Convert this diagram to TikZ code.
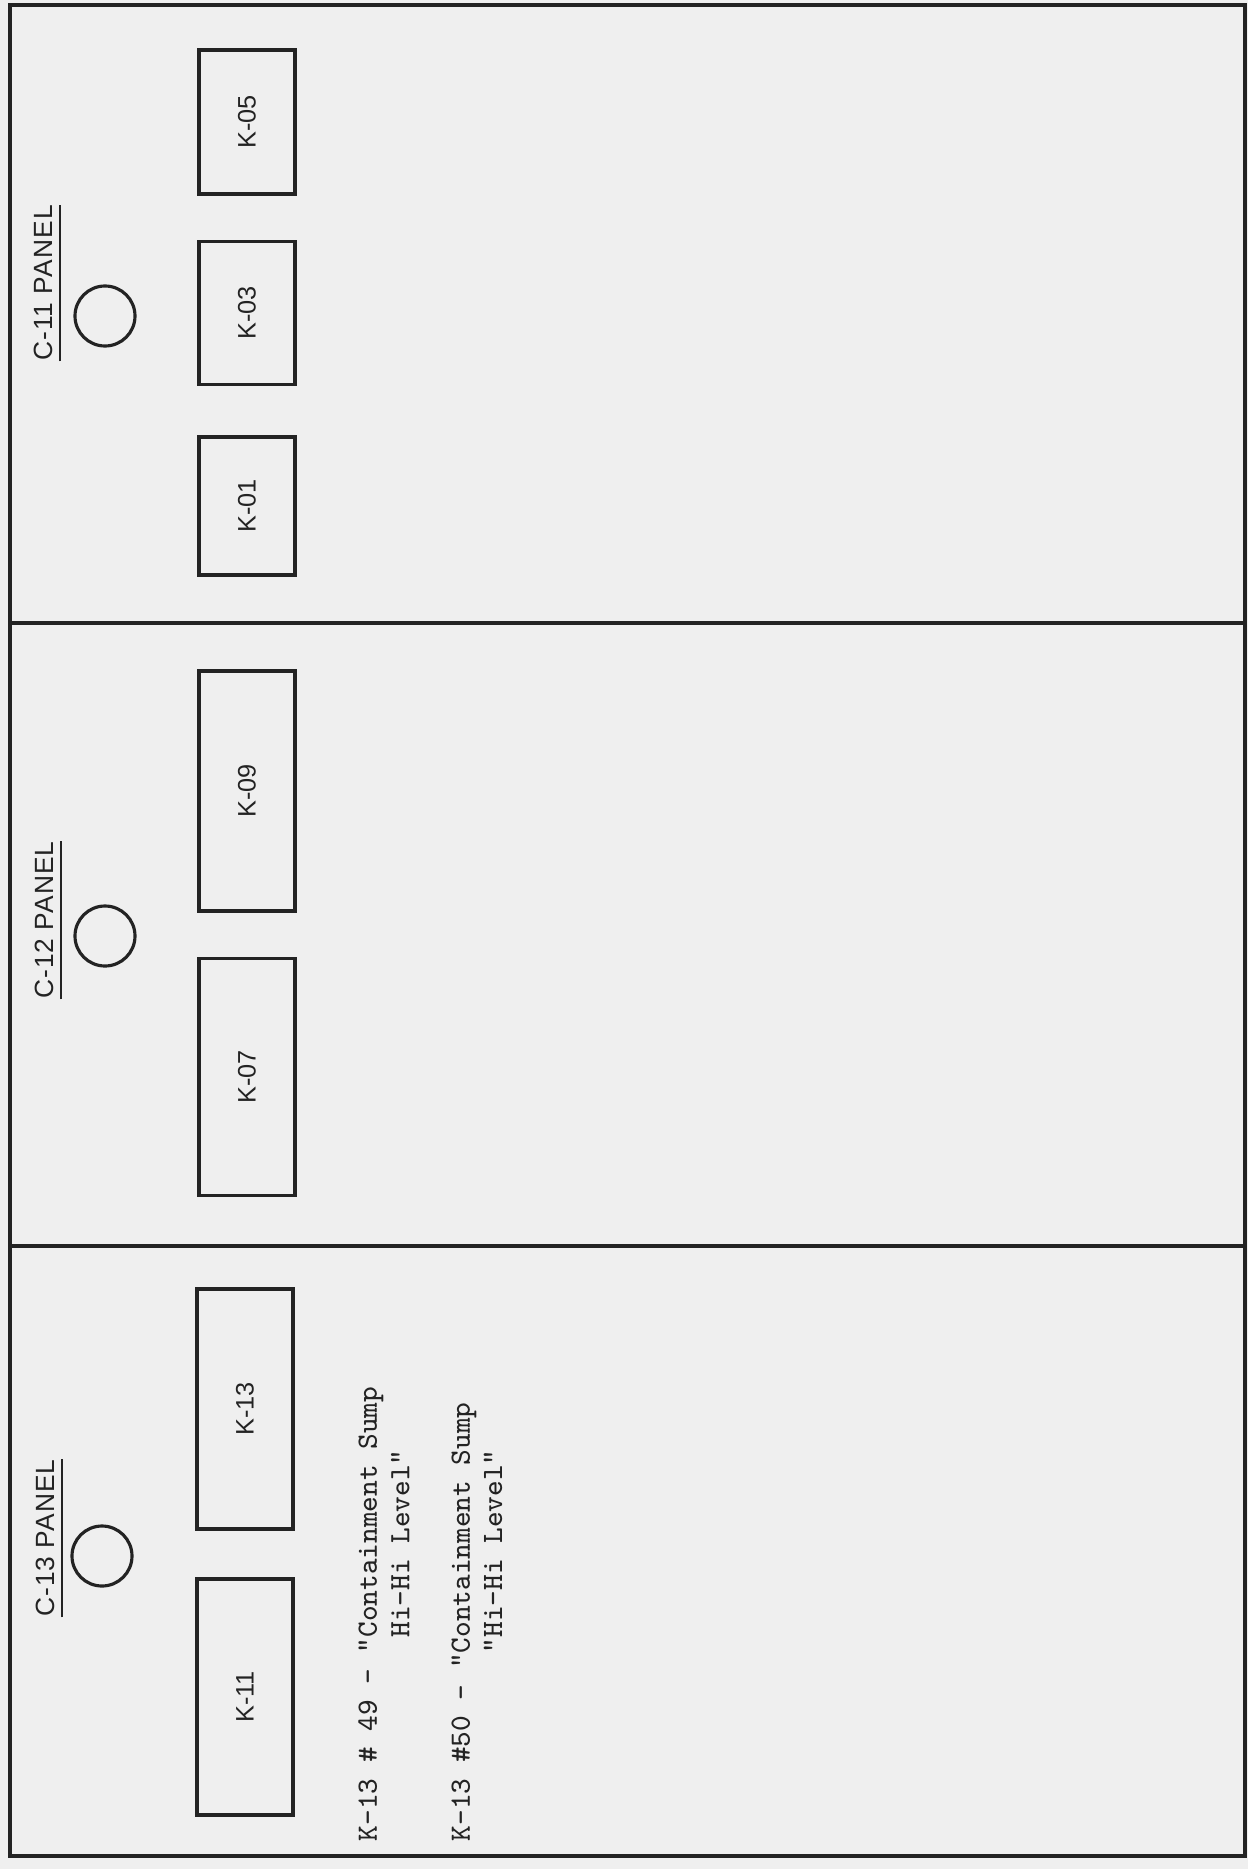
\documentclass[tikz,border=0pt]{standalone}
\usepackage{fontspec}
\setsansfont{Liberation Sans}
\newfontfamily\panelfont[LetterSpace=4]{Liberation Sans}
\usetikzlibrary{positioning}
\definecolor{paper}{RGB}{239,239,239}
\definecolor{ink}{RGB}{35,35,35}

\begin{document}
\begin{tikzpicture}[x=0.1mm, y=-0.1mm]
  \tikzset{
    relay/.style={draw=ink, line width=1.1pt, rotate=90, inner sep=0pt,
                  minimum height=0.96cm, text=ink,
                  font=\sffamily\fontsize{7.2}{8}\selectfont},
    lamp/.style={draw=ink, line width=0.9pt, circle, minimum size=0.6cm,
                 inner sep=0pt},
    ptitle/.style={rotate=90, inner xsep=0pt, inner ysep=2pt, text=ink,
                   font=\panelfont\fontsize{7.5}{9}\selectfont},
    note/.style={rotate=90, anchor=west, align=left, inner sep=0pt, text=ink,
                 font=\ttfamily\fontsize{8.4}{9.2}\selectfont},
    rule/.style={draw=ink, line width=1.1pt}
  }
  % Sheet and panel frames
  \fill[paper] (0,0) rectangle (1248,1869);
  \draw[rule] (10,5) rectangle (1245,1856);
  \draw[rule] (10,623) -- (1245,623);
  \draw[rule] (10,1246) -- (1245,1246);
  % Panel titles
  \node[ptitle] (c11) at (43,283) {C-11 PANEL};
  \node[ptitle] (c12) at (44,920) {C-12 PANEL};
  \node[ptitle] (c13) at (45,1538) {C-13 PANEL};
  \foreach \t in {c11,c12,c13}
    \draw[ink, line width=0.7pt] (\t.south west) -- (\t.south east);
  % Indicator lamps
  \node[lamp] (lamp11) at (105,316) {};
  \node[lamp] (lamp12) at (105,936) {};
  \node[lamp] (lamp13) at (102,1556) {};
  % C-11: K-05, K-03, K-01
  \foreach \k/\y/\len in {05/122/1.44, 03/313/1.43, 01/506/1.38}
    \node[relay, minimum width=\len cm] (k\k) at (247,\y) {K-\k};
  % C-12: K-09, K-07
  \foreach \k/\y/\len in {09/791/2.40, 07/1077/2.37}
    \node[relay, minimum width=\len cm] (k\k) at (247,\y) {K-\k};
  % C-13: K-13, K-11
  \foreach \k/\y/\len in {13/1409/2.40, 11/1697/2.36}
    \node[relay, minimum width=\len cm] (k\k) at (245,\y) {K-\k};
  % Annunciator notes
  \node[note] (n49) at (384,1842)
    {K-13 \# 49 - "Containment Sump\\\phantom{K-13 \# 49 - "}Hi-Hi Level"};
  \node[note] (n50) at (477,1842)
    {K-13 \#50 - "Containment Sump\\\phantom{K-13 \#50 - "}"Hi-Hi Level"};
\end{tikzpicture}
\end{document}
